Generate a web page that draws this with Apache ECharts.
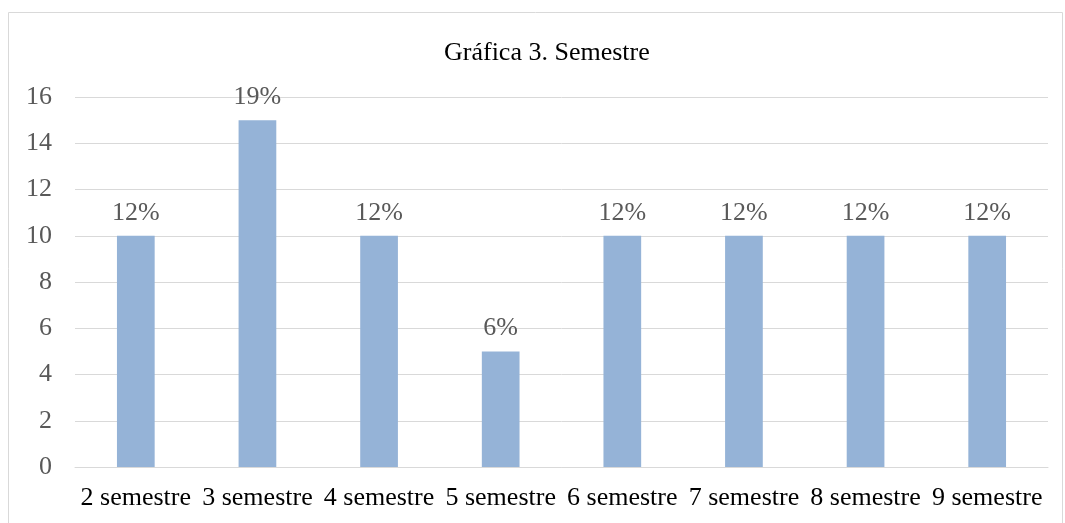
<!DOCTYPE html>
<html>
<head>
<meta charset="utf-8">
<script src="https://cdn.jsdelivr.net/npm/echarts@6/dist/echarts.min.js"></script>
<style>
  html, body { margin: 0; padding: 0; background: #fff; }
  #chart { width: 1065px; height: 523px; }
</style>
</head>
<body>
<div id="chart"></div>
<script>
var categories = ['2 semestre', '3 semestre', '4 semestre', '5 semestre', '6 semestre', '7 semestre', '8 semestre', '9 semestre'];
var counts = [10, 15, 10, 5, 10, 10, 10, 10];
var pctLabels = ['12%', '19%', '12%', '6%', '12%', '12%', '12%', '12%'];

var font = '"Liberation Serif", "Times New Roman", serif';

var option = {
    animation: false,
    title: {
        text: 'Gráfica 3. Semestre',
        left: 439,
        top: 35,
        textStyle: { fontFamily: font, fontSize: 26, fontWeight: 'normal', color: '#000' }
    },
    graphic: [{
        type: 'rect',
        shape: { x: 8.5, y: 12.5, width: 1054, height: 530 },
        style: { fill: null, stroke: '#D9D9D9', lineWidth: 1 },
        silent: true
    }],
    grid: { left: 75, right: 17, top: 97, bottom: 56 },
    xAxis: {
        type: 'category',
        data: categories,
        axisLine: { lineStyle: { color: '#D9D9D9' } },
        axisTick: { show: false },
        axisLabel: { fontFamily: font, fontSize: 26, color: '#000', margin: 18, interval: 0 }
    },
    yAxis: {
        type: 'value',
        min: 0,
        max: 16,
        interval: 2,
        axisLine: { show: false },
        axisTick: { show: false },
        splitLine: { lineStyle: { color: '#D9D9D9', width: 1 } },
        axisLabel: { fontFamily: font, fontSize: 26, color: '#595959', margin: 23 }
    },
    series: [{
        type: 'bar',
        data: counts,
        barWidth: '31%',
        itemStyle: { color: '#95B3D7' },
        label: {
            show: true,
            position: 'top',
            distance: 10,
            fontFamily: font,
            fontSize: 26,
            color: '#595959',
            formatter: function (p) { return pctLabels[p.dataIndex]; }
        }
    }]
};

var myChart = echarts.init(document.getElementById('chart'));
myChart.setOption(option);
</script>
</body>
</html>
